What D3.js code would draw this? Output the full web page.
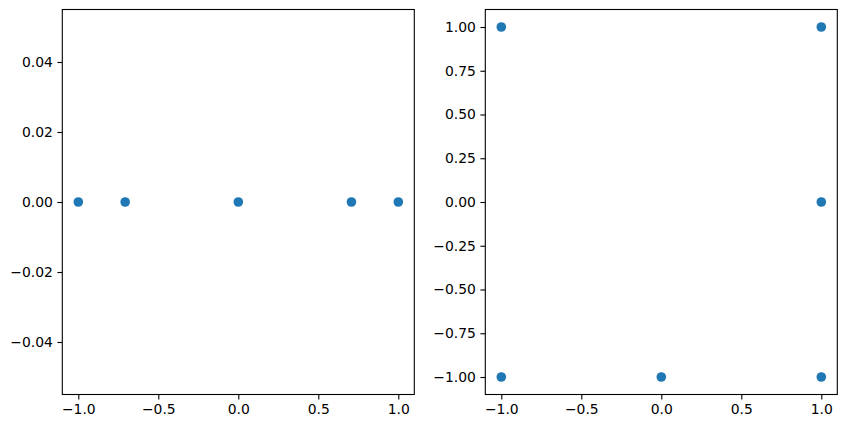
<!DOCTYPE html>
<html><head><meta charset="utf-8">
<script src="https://cdn.jsdelivr.net/npm/d3@7"></script>
<style>body{margin:0;background:#fff}svg{display:block}text{font-family:"DejaVu Sans",sans-serif}</style>
</head><body>
<svg id="c" width="846" height="428"></svg>
<script>
const leftX = [-1, -0.7071, 0, 0.7071, 1];
const leftY = [0, 0, 0, 0, 0];
const leftXTicks = [-1.0, -0.5, 0.0, 0.5, 1.0];
const leftYTicks = [-0.04, -0.02, 0.00, 0.02, 0.04];
const rightX = [-1, 1, 1, -1, 0, 1];
const rightY = [1, 1, 0, -1, -1, -1];
const rightXTicks = [-1.0, -0.5, 0.0, 0.5, 1.0];
const rightYTicks = [-1.00, -0.75, -0.50, -0.25, 0.00, 0.25, 0.50, 0.75, 1.00];

const svg = d3.select("#c");
const plotTop = 9.5, plotBottom = 394.5;

function panel(x0, x1, xs, ys, xd, yd, xt, yt, xfmt, yfmt) {
  const x = d3.scaleLinear().domain(xd).range([x0, x1]);
  const y = d3.scaleLinear().domain(yd).range([plotBottom, plotTop]);
  const g = svg.append("g");
  const xa = g.append("g").attr("transform", `translate(0,${plotBottom})`)
    .call(d3.axisBottom(x).tickValues(xt).tickFormat(d => d3.format(xfmt)(d).replace("-", "\u2212")).tickSizeOuter(0).tickSize(4.9).tickPadding(4.5));
  const ya = g.append("g").attr("transform", `translate(${x0},0)`)
    .call(d3.axisLeft(y).tickValues(yt).tickFormat(d => d3.format(yfmt)(d).replace("-", "\u2212")).tickSizeOuter(0).tickSize(4.9).tickPadding(4.5));
  [xa, ya].forEach(a => {
    a.select(".domain").remove();
    a.selectAll("line").attr("stroke", "#000").attr("stroke-width", 1.1);
    a.selectAll("text").attr("font-size", "13.9px").attr("fill", "#000").attr("font-family", "DejaVu Sans");
  });
  g.selectAll("circle").data(xs.map((v, i) => [v, ys[i]])).enter().append("circle")
    .attr("cx", d => x(d[0])).attr("cy", d => y(d[1])).attr("r", 4.8).attr("fill", "#1f77b4");
  g.append("rect").attr("x", x0).attr("y", plotTop).attr("width", x1 - x0).attr("height", plotBottom - plotTop)
    .attr("fill", "none").attr("stroke", "#000").attr("stroke-width", 1.1);
}

panel(62.3, 414.3, leftX, leftY, [-1.1, 1.1], [-0.055, 0.055], leftXTicks, leftYTicks, ".1f", ".2f");
panel(485.3, 837.3, rightX, rightY, [-1.1, 1.1], [-1.1, 1.1], rightXTicks, rightYTicks, ".1f", ".2f");
</script>
</body></html>
